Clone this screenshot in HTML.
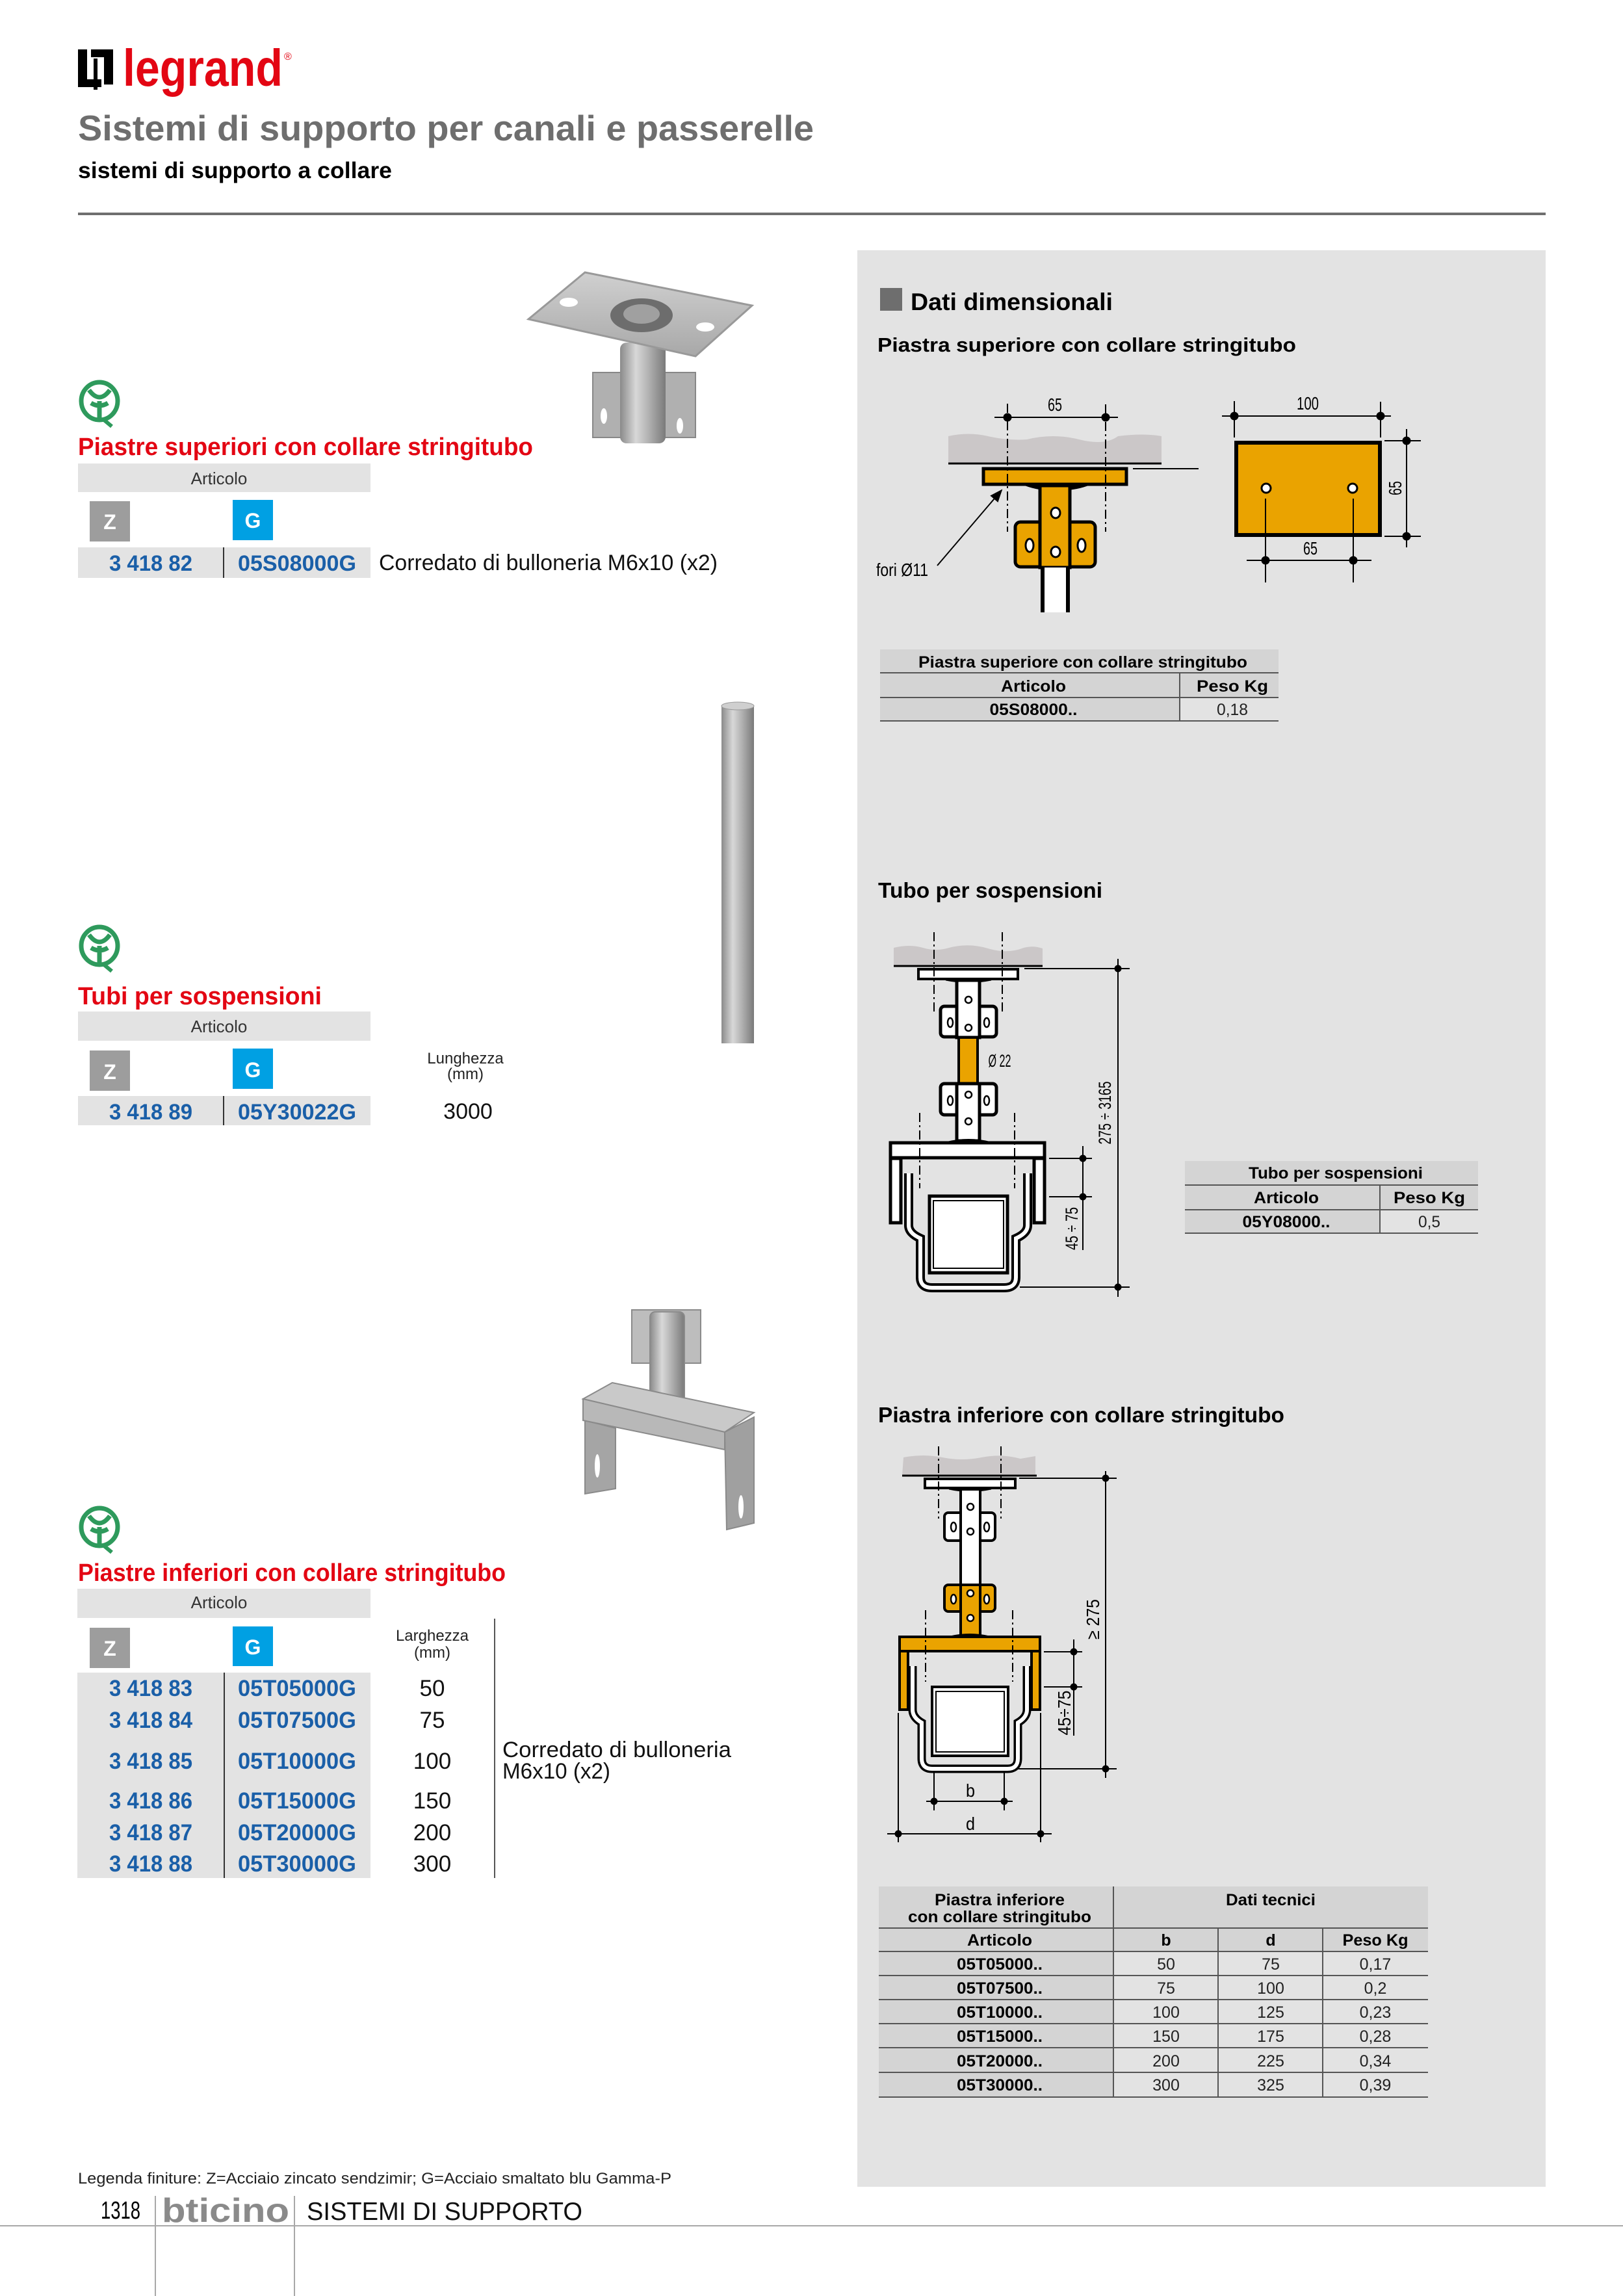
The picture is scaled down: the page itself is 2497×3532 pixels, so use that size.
<!DOCTYPE html>
<html><head><meta charset="utf-8"><style>
html,body{margin:0;padding:0;background:#fff}
svg{display:block}
text{font-family:"Liberation Sans",sans-serif}
</style></head><body>
<svg width="2497" height="3532" viewBox="0 0 2497 3532" xmlns="http://www.w3.org/2000/svg">
<defs>
<linearGradient id="met" x1="0" x2="1" y1="0" y2="0"><stop offset="0" stop-color="#8a8a8a"/><stop offset="0.35" stop-color="#d8d8d8"/><stop offset="0.6" stop-color="#b5b5b5"/><stop offset="1" stop-color="#7a7a7a"/></linearGradient>
<linearGradient id="met2" x1="0" x2="0" y1="0" y2="1"><stop offset="0" stop-color="#d0d0d0"/><stop offset="1" stop-color="#a8a8a8"/></linearGradient>
<marker id="arr" viewBox="0 0 10 10" refX="9" refY="5" markerWidth="10" markerHeight="10" orient="auto"><path d="M0,1 L10,5 L0,9 z" fill="#000"/></marker>
</defs>

<!-- header -->
<rect x="120" y="76" width="14" height="58" fill="#000"/>
<rect x="120" y="122" width="36" height="12" fill="#000"/>
<rect x="140" y="76" width="34" height="12" fill="#000"/>
<rect x="160" y="76" width="14" height="54" fill="#000"/>
<rect x="144" y="90" width="6" height="48" fill="#000"/>
<text x="189" y="132" font-size="80" font-weight="bold" fill="#e30613" textLength="246" lengthAdjust="spacingAndGlyphs">legrand</text>
<text x="437" y="92" font-size="16" fill="#e30613">®</text>
<text x="120" y="216" font-size="55" font-weight="bold" fill="#6e6e6e" textLength="1132" lengthAdjust="spacingAndGlyphs">Sistemi di supporto per canali e passerelle</text>
<text x="120" y="274" font-size="35" font-weight="bold" fill="#000" textLength="483" lengthAdjust="spacingAndGlyphs">sistemi di supporto a collare</text>
<rect x="120" y="327" width="2258" height="4" fill="#6f6f6f"/>

<!-- right panel -->
<rect x="1319" y="385" width="1059" height="2979" fill="#e3e3e3"/>
<rect x="1354" y="443" width="34" height="35" fill="#6e6e6e"/>
<text x="1401" y="477" font-size="37" font-weight="bold" fill="#000" textLength="311" lengthAdjust="spacingAndGlyphs">Dati dimensionali</text>
<text x="1350" y="541" font-size="31" font-weight="bold" fill="#000" textLength="644" lengthAdjust="spacingAndGlyphs">Piastra superiore con collare stringitubo</text>

<!-- diagram 1 -->
<g stroke="#000">
<path d="M1459,671 Q1490,664 1520,671 T1580,676 Q1620,666 1660,676 T1720,671 Q1760,666 1787,671 V713 H1459 Z" fill="#cbc7c8" stroke="none"/>
<line x1="1459" y1="713" x2="1787" y2="713" stroke-width="3"/>
<line x1="1743" y1="721" x2="1844" y2="721" stroke-width="2"/>
<rect x="1513" y="721" width="220" height="24" fill="#eaa300" stroke-width="5"/>
<path d="M1578,747 Q1600,755 1625,754 Q1650,755 1673,747 Z" fill="#000"/>
<rect x="1562" y="803" width="123" height="69" rx="8" fill="#eaa300" stroke-width="5"/>
<rect x="1600" y="747" width="46" height="126" fill="#eaa300" stroke-width="5"/>
<ellipse cx="1624" cy="789" rx="7" ry="8" fill="#fff" stroke-width="3"/>
<ellipse cx="1624" cy="849" rx="7" ry="8" fill="#fff" stroke-width="3"/>
<ellipse cx="1584" cy="839" rx="6" ry="10" fill="#fff" stroke-width="3"/>
<ellipse cx="1664" cy="839" rx="6" ry="10" fill="#fff" stroke-width="3"/>
<rect x="1604" y="873" width="39" height="69" fill="#fff" stroke="none"/>
<line x1="1604" y1="873" x2="1604" y2="942" stroke-width="6"/>
<line x1="1643" y1="873" x2="1643" y2="942" stroke-width="6"/>
<line x1="1550" y1="621" x2="1550" y2="818" stroke-width="2" stroke-dasharray="14 5 3 5"/>
<line x1="1701" y1="622" x2="1701" y2="818" stroke-width="2" stroke-dasharray="14 5 3 5"/>
<line x1="1530" y1="642" x2="1720" y2="642" stroke-width="2"/>
<circle cx="1550" cy="642" r="6" fill="#000"/><circle cx="1701" cy="642" r="6" fill="#000"/>
<line x1="1442" y1="870" x2="1541" y2="754" stroke-width="2" marker-end="url(#arr)"/>
<rect x="1902" y="681" width="221" height="142" fill="#eaa300" stroke-width="6"/>
<circle cx="1948" cy="751" r="7" fill="#fff" stroke-width="3"/>
<circle cx="2081" cy="751" r="7" fill="#fff" stroke-width="3"/>
<line x1="1947" y1="767" x2="1947" y2="896" stroke-width="2"/>
<line x1="2082" y1="767" x2="2082" y2="896" stroke-width="2"/>
<line x1="1880" y1="640" x2="2140" y2="640" stroke-width="2"/>
<line x1="1899" y1="617" x2="1899" y2="673" stroke-width="2"/>
<line x1="2124" y1="618" x2="2124" y2="673" stroke-width="2"/>
<circle cx="1899" cy="640" r="6" fill="#000"/><circle cx="2124" cy="640" r="6" fill="#000"/>
<line x1="2164" y1="660" x2="2164" y2="842" stroke-width="2"/>
<line x1="2130" y1="678" x2="2186" y2="678" stroke-width="2"/>
<line x1="2130" y1="825" x2="2186" y2="825" stroke-width="2"/>
<circle cx="2164" cy="678" r="6" fill="#000"/><circle cx="2164" cy="825" r="6" fill="#000"/>
<line x1="1918" y1="862" x2="2110" y2="862" stroke-width="2"/>
<circle cx="1947" cy="862" r="6" fill="#000"/><circle cx="2082" cy="862" r="6" fill="#000"/>
</g>
<g fill="#000" font-size="28" text-anchor="middle">
<text x="1623" y="632" textLength="22" lengthAdjust="spacingAndGlyphs">65</text>
<text x="2012" y="630" textLength="34" lengthAdjust="spacingAndGlyphs">100</text>
<text x="2016" y="853" textLength="22" lengthAdjust="spacingAndGlyphs">65</text>
<text transform="translate(2156,751) rotate(-90)" textLength="22" lengthAdjust="spacingAndGlyphs">65</text>
<text x="1348" y="886" text-anchor="start" textLength="80" lengthAdjust="spacingAndGlyphs">fori Ø11</text>
</g>

<!-- table 1 -->
<rect x="1354" y="999" width="613" height="110" fill="#d4d4d4"/>
<rect x="1815" y="1073" width="152" height="36" fill="#e3e3e3"/>
<g stroke="#555" stroke-width="2">
<line x1="1354" y1="1035" x2="1967" y2="1035"/><line x1="1354" y1="1073" x2="1967" y2="1073"/><line x1="1354" y1="1109" x2="1967" y2="1109"/>
<line x1="1815" y1="1035" x2="1815" y2="1109"/>
</g>
<g font-weight="bold" font-size="25" text-anchor="middle" fill="#000">
<text x="1666" y="1027" textLength="506" lengthAdjust="spacingAndGlyphs">Piastra superiore con collare stringitubo</text>
<text x="1590" y="1064" textLength="100" lengthAdjust="spacingAndGlyphs">Articolo</text>
<text x="1896" y="1064" textLength="110" lengthAdjust="spacingAndGlyphs">Peso  Kg</text>
<text x="1590" y="1100" textLength="135" lengthAdjust="spacingAndGlyphs">05S08000..</text>
</g>
<text x="1896" y="1100" font-size="25" text-anchor="middle" fill="#222" textLength="48" lengthAdjust="spacingAndGlyphs">0,18</text>

<!-- tubo diagram -->
<text x="1351" y="1381" font-size="33" font-weight="bold" fill="#000" textLength="345" lengthAdjust="spacingAndGlyphs">Tubo per sospensioni</text>
<g stroke="#000">
<path d="M1375,1458 Q1400,1452 1420,1458 T1460,1458 Q1490,1450 1520,1459 T1575,1458 Q1590,1454 1604,1459 V1486 H1375 Z" fill="#cbc7c8" stroke="none"/>
<line x1="1375" y1="1486" x2="1604" y2="1486" stroke-width="3"/>
<line x1="1576" y1="1490" x2="1738" y2="1490" stroke-width="2"/>
<rect x="1413" y="1491" width="153" height="15" fill="#fff" stroke-width="4"/>
<path d="M1455,1508 Q1490,1515 1525,1508 Z" fill="#000"/>
<rect x="1447" y="1548" width="86" height="47" rx="6" fill="#fff" stroke-width="5"/>
<rect x="1447" y="1667" width="86" height="48" rx="6" fill="#fff" stroke-width="5"/>
<rect x="1472" y="1508" width="35" height="88" fill="#fff" stroke-width="5"/>
<rect x="1475" y="1596" width="29" height="71" fill="#eaa300" stroke-width="4"/>
<rect x="1472" y="1667" width="35" height="88" fill="#fff" stroke-width="5"/>
<path d="M1455,1757 Q1490,1748 1525,1757 Z" fill="#000"/>
<g fill="#fff" stroke-width="2.5">
<ellipse cx="1490" cy="1538" rx="5" ry="5"/><ellipse cx="1490" cy="1581" rx="5" ry="5"/>
<ellipse cx="1462" cy="1573" rx="4" ry="7"/><ellipse cx="1518" cy="1573" rx="4" ry="7"/>
<ellipse cx="1490" cy="1684" rx="5" ry="5"/><ellipse cx="1490" cy="1725" rx="5" ry="5"/>
<ellipse cx="1462" cy="1693" rx="4" ry="7"/><ellipse cx="1518" cy="1693" rx="4" ry="7"/>
</g>
<rect x="1370" y="1758" width="237" height="23" fill="#fff" stroke-width="5"/>
<rect x="1370" y="1782" width="16" height="99" fill="#fff" stroke-width="5"/>
<rect x="1591" y="1782" width="16" height="99" fill="#fff" stroke-width="5"/>
<path d="M1398,1805 V1885 Q1398,1897 1416,1905 V1965 Q1416,1981 1434,1981 H1545 Q1563,1981 1563,1965 V1905 Q1581,1897 1581,1885 V1805" fill="none" stroke-width="14"/>
<path d="M1398,1805 V1885 Q1398,1897 1416,1905 V1965 Q1416,1981 1434,1981 H1545 Q1563,1981 1563,1965 V1905 Q1581,1897 1581,1885 V1805" fill="none" stroke="#fff" stroke-width="6"/>
<rect x="1430" y="1840" width="120" height="118" fill="#fff" stroke-width="5"/>
<rect x="1436" y="1847" width="108" height="104" fill="none" stroke-width="2"/>
<line x1="1437" y1="1434" x2="1437" y2="1558" stroke-width="2" stroke-dasharray="14 5 3 5"/>
<line x1="1542" y1="1434" x2="1542" y2="1558" stroke-width="2" stroke-dasharray="14 5 3 5"/>
<line x1="1415" y1="1712" x2="1415" y2="1828" stroke-width="2" stroke-dasharray="14 5 3 5"/>
<line x1="1561" y1="1712" x2="1561" y2="1828" stroke-width="2" stroke-dasharray="14 5 3 5"/>
<line x1="1720" y1="1475" x2="1720" y2="1995" stroke-width="2"/>
<line x1="1569" y1="1980" x2="1738" y2="1980" stroke-width="2"/>
<circle cx="1720" cy="1490" r="5" fill="#000"/><circle cx="1720" cy="1980" r="5" fill="#000"/>
<line x1="1614" y1="1782" x2="1680" y2="1782" stroke-width="2"/>
<line x1="1614" y1="1841" x2="1680" y2="1841" stroke-width="2"/>
<line x1="1666" y1="1763" x2="1666" y2="1923" stroke-width="2"/>
<circle cx="1666" cy="1782" r="5" fill="#000"/><circle cx="1666" cy="1841" r="5" fill="#000"/>
</g>
<g font-size="27" fill="#000" text-anchor="middle">
<text x="1538" y="1641" textLength="35" lengthAdjust="spacingAndGlyphs">Ø 22</text>
<text transform="translate(1709,1712) rotate(-90)" textLength="97" lengthAdjust="spacingAndGlyphs">275 ÷ 3165</text>
<text transform="translate(1658,1890) rotate(-90)" textLength="66" lengthAdjust="spacingAndGlyphs">45 ÷ 75</text>
</g>

<!-- table 2 -->
<rect x="1823" y="1786" width="451" height="111" fill="#d4d4d4"/>
<rect x="2123" y="1861" width="151" height="36" fill="#e3e3e3"/>
<g stroke="#555" stroke-width="2">
<line x1="1823" y1="1823" x2="2274" y2="1823"/><line x1="1823" y1="1861" x2="2274" y2="1861"/><line x1="1823" y1="1897" x2="2274" y2="1897"/>
<line x1="2123" y1="1823" x2="2123" y2="1897"/>
</g>
<g font-weight="bold" font-size="25" text-anchor="middle" fill="#000">
<text x="2055" y="1813" textLength="268" lengthAdjust="spacingAndGlyphs">Tubo per sospensioni</text>
<text x="1979" y="1851" textLength="100" lengthAdjust="spacingAndGlyphs">Articolo</text>
<text x="2199" y="1851" textLength="110" lengthAdjust="spacingAndGlyphs">Peso  Kg</text>
<text x="1979" y="1888" textLength="135" lengthAdjust="spacingAndGlyphs">05Y08000..</text>
</g>
<text x="2199" y="1888" font-size="25" text-anchor="middle" fill="#222" textLength="34" lengthAdjust="spacingAndGlyphs">0,5</text>

<!-- inferiore diagram -->
<text x="1351" y="2188" font-size="33" font-weight="bold" fill="#000" textLength="625" lengthAdjust="spacingAndGlyphs">Piastra inferiore con collare stringitubo</text>
<g stroke="#000">
<path d="M1390,2242 Q1420,2236 1450,2242 T1510,2242 Q1540,2236 1570,2244 L1593,2240 V2270 H1388 Z" fill="#cbc7c8" stroke="none"/>
<line x1="1388" y1="2270" x2="1595" y2="2270" stroke-width="3"/>
<line x1="1568" y1="2274" x2="1718" y2="2274" stroke-width="2"/>
<rect x="1423" y="2275" width="139" height="14" fill="#fff" stroke-width="4"/>
<path d="M1460,2291 Q1492,2298 1525,2291 Z" fill="#000"/>
<rect x="1453" y="2327" width="78" height="43" rx="6" fill="#fff" stroke-width="4"/>
<rect x="1453" y="2438" width="78" height="41" rx="6" fill="#eaa300" stroke-width="4"/>
<rect x="1478" y="2291" width="30" height="147" fill="#fff" stroke-width="4"/>
<rect x="1478" y="2438" width="30" height="78" fill="#eaa300" stroke-width="4"/>
<path d="M1462,2517 Q1492,2510 1522,2517 Z" fill="#000"/>
<g fill="#fff" stroke-width="2.5">
<ellipse cx="1493" cy="2318" rx="5" ry="5"/><ellipse cx="1493" cy="2356" rx="5" ry="5"/>
<ellipse cx="1467" cy="2349" rx="4" ry="7"/><ellipse cx="1518" cy="2349" rx="4" ry="7"/>
<ellipse cx="1493" cy="2451" rx="5" ry="5"/><ellipse cx="1493" cy="2489" rx="5" ry="5"/>
<ellipse cx="1467" cy="2460" rx="4" ry="7"/><ellipse cx="1518" cy="2460" rx="4" ry="7"/>
</g>
<rect x="1384" y="2518" width="216" height="22" fill="#eaa300" stroke-width="4"/>
<rect x="1384" y="2540" width="13" height="90" fill="#eaa300" stroke-width="4"/>
<rect x="1587" y="2540" width="13" height="90" fill="#eaa300" stroke-width="4"/>
<path d="M1404,2563 V2630 Q1404,2642 1418,2650 V2705 Q1418,2721 1434,2721 H1550 Q1566,2721 1566,2705 V2650 Q1580,2642 1580,2630 V2563" fill="none" stroke-width="13"/>
<path d="M1404,2563 V2630 Q1404,2642 1418,2650 V2705 Q1418,2721 1434,2721 H1550 Q1566,2721 1566,2705 V2650 Q1580,2642 1580,2630 V2563" fill="none" stroke="#fff" stroke-width="6"/>
<rect x="1434" y="2595" width="117" height="106" fill="#fff" stroke-width="4"/>
<rect x="1440" y="2602" width="105" height="93" fill="none" stroke-width="2"/>
<line x1="1444" y1="2225" x2="1444" y2="2336" stroke-width="2" stroke-dasharray="14 5 3 5"/>
<line x1="1540" y1="2225" x2="1540" y2="2336" stroke-width="2" stroke-dasharray="14 5 3 5"/>
<line x1="1424" y1="2477" x2="1424" y2="2587" stroke-width="2" stroke-dasharray="14 5 3 5"/>
<line x1="1558" y1="2477" x2="1558" y2="2587" stroke-width="2" stroke-dasharray="14 5 3 5"/>
<line x1="1701" y1="2263" x2="1701" y2="2735" stroke-width="2"/>
<line x1="1565" y1="2721" x2="1718" y2="2721" stroke-width="2"/>
<circle cx="1701" cy="2274" r="5" fill="#000"/><circle cx="1701" cy="2721" r="5" fill="#000"/>
<line x1="1606" y1="2541" x2="1665" y2="2541" stroke-width="2"/>
<line x1="1606" y1="2595" x2="1665" y2="2595" stroke-width="2"/>
<line x1="1652" y1="2522" x2="1652" y2="2670" stroke-width="2"/>
<circle cx="1652" cy="2541" r="5" fill="#000"/><circle cx="1652" cy="2595" r="5" fill="#000"/>
<line x1="1382" y1="2635" x2="1382" y2="2834" stroke-width="2"/>
<line x1="1601" y1="2635" x2="1601" y2="2834" stroke-width="2"/>
<line x1="1437" y1="2726" x2="1437" y2="2785" stroke-width="2"/>
<line x1="1545" y1="2726" x2="1545" y2="2785" stroke-width="2"/>
<line x1="1425" y1="2771" x2="1558" y2="2771" stroke-width="2"/>
<line x1="1365" y1="2821" x2="1618" y2="2821" stroke-width="2"/>
<circle cx="1437" cy="2771" r="5" fill="#000"/><circle cx="1545" cy="2771" r="5" fill="#000"/>
<circle cx="1382" cy="2821" r="5" fill="#000"/><circle cx="1601" cy="2821" r="5" fill="#000"/>
</g>
<g font-size="28" fill="#000" text-anchor="middle">
<text transform="translate(1691,2491) rotate(-90)" textLength="62" lengthAdjust="spacingAndGlyphs">≥ 275</text>
<text transform="translate(1647,2635) rotate(-90)" textLength="69" lengthAdjust="spacingAndGlyphs">45÷75</text>
<text x="1493" y="2764" textLength="14" lengthAdjust="spacingAndGlyphs">b</text>
<text x="1493" y="2815" textLength="14" lengthAdjust="spacingAndGlyphs">d</text>
</g>

<!-- table 3 -->
<rect x="1352" y="2902" width="845" height="324" fill="#d4d4d4"/>
<rect x="1713" y="3002" width="484" height="224" fill="#e3e3e3"/>
<g stroke="#555" stroke-width="2">
<line x1="1352" y1="2966" x2="2197" y2="2966"/>
<line x1="1352" y1="3002" x2="2197" y2="3002"/>
<line x1="1352" y1="3039" x2="2197" y2="3039"/>
<line x1="1352" y1="3076" x2="2197" y2="3076"/>
<line x1="1352" y1="3113" x2="2197" y2="3113"/>
<line x1="1352" y1="3150" x2="2197" y2="3150"/>
<line x1="1352" y1="3188" x2="2197" y2="3188"/>
<line x1="1352" y1="3226" x2="2197" y2="3226"/>
<line x1="1713" y1="2902" x2="1713" y2="3226"/>
<line x1="1874" y1="2966" x2="1874" y2="3226"/>
<line x1="2035" y1="2966" x2="2035" y2="3226"/>
</g>
<g font-weight="bold" font-size="25" text-anchor="middle" fill="#000">
<text x="1538" y="2931" textLength="200" lengthAdjust="spacingAndGlyphs">Piastra inferiore</text>
<text x="1538" y="2957" textLength="282" lengthAdjust="spacingAndGlyphs">con collare stringitubo</text>
<text x="1955" y="2931" textLength="138" lengthAdjust="spacingAndGlyphs">Dati tecnici</text>
<text x="1538" y="2993" textLength="100" lengthAdjust="spacingAndGlyphs">Articolo</text>
<text x="1794" y="2993">b</text>
<text x="1955" y="2993">d</text>
<text x="2116" y="2993" textLength="101" lengthAdjust="spacingAndGlyphs">Peso Kg</text>
<text x="1538" y="3030" textLength="132" lengthAdjust="spacingAndGlyphs">05T05000..</text>
<text x="1538" y="3067" textLength="132" lengthAdjust="spacingAndGlyphs">05T07500..</text>
<text x="1538" y="3104" textLength="132" lengthAdjust="spacingAndGlyphs">05T10000..</text>
<text x="1538" y="3141" textLength="132" lengthAdjust="spacingAndGlyphs">05T15000..</text>
<text x="1538" y="3179" textLength="132" lengthAdjust="spacingAndGlyphs">05T20000..</text>
<text x="1538" y="3216" textLength="132" lengthAdjust="spacingAndGlyphs">05T30000..</text>
</g>
<g font-size="25" text-anchor="middle" fill="#222">
<text x="1794" y="3030">50</text><text x="1955" y="3030">75</text><text x="2116" y="3030">0,17</text>
<text x="1794" y="3067">75</text><text x="1955" y="3067">100</text><text x="2116" y="3067">0,2</text>
<text x="1794" y="3104">100</text><text x="1955" y="3104">125</text><text x="2116" y="3104">0,23</text>
<text x="1794" y="3141">150</text><text x="1955" y="3141">175</text><text x="2116" y="3141">0,28</text>
<text x="1794" y="3179">200</text><text x="1955" y="3179">225</text><text x="2116" y="3179">0,34</text>
<text x="1794" y="3216">300</text><text x="1955" y="3216">325</text><text x="2116" y="3216">0,39</text>
</g>

<!-- green icons -->
<g id="ic1" fill="none" stroke="#2e9a5c" stroke-width="7">
<ellipse cx="153" cy="617" rx="28" ry="29"/>
<path d="M137,600 Q153,622 169,600 M153,617 V645 M140,620 Q153,628 166,620"/>
<path d="M160,646 L172,656" stroke-width="6"/>
</g>
<use href="#ic1" transform="translate(0,838)"/>
<use href="#ic1" transform="translate(0,1732)"/>

<!-- section 1 -->
<text x="120" y="700" font-size="38" font-weight="bold" fill="#e30613" textLength="700" lengthAdjust="spacingAndGlyphs">Piastre superiori con collare stringitubo</text>
<rect x="120" y="713" width="450" height="44" fill="#e3e3e3"/>
<text x="337" y="745" font-size="26" text-anchor="middle" fill="#333">Articolo</text>
<rect x="138" y="771" width="62" height="62" fill="#9d9d9d"/>
<text x="169" y="814" font-size="32" font-weight="bold" text-anchor="middle" fill="#fff">Z</text>
<rect x="358" y="769" width="62" height="62" fill="#00a0e3"/>
<text x="389" y="812" font-size="32" font-weight="bold" text-anchor="middle" fill="#fff">G</text>
<rect x="120" y="842" width="450" height="47" fill="#e3e3e3"/>
<line x1="344" y1="842" x2="344" y2="889" stroke="#333" stroke-width="2"/>
<text x="232" y="878" font-size="34" font-weight="bold" text-anchor="middle" fill="#1a5fa8" textLength="128" lengthAdjust="spacingAndGlyphs">3 418 82</text>
<text x="457" y="878" font-size="34" font-weight="bold" text-anchor="middle" fill="#1a5fa8" textLength="182" lengthAdjust="spacingAndGlyphs">05S08000G</text>
<text x="583" y="877" font-size="34" fill="#111" textLength="521" lengthAdjust="spacingAndGlyphs">Corredato di bulloneria M6x10 (x2)</text>

<!-- photo 1 -->
<g>
<rect x="912" y="573" width="158" height="100" fill="#b0b0b0" stroke="#888" stroke-width="2"/>
<rect x="954" y="527" width="70" height="155" rx="10" fill="url(#met)"/>
<polygon points="813,491 900,419 1157,470 1070,548" fill="url(#met2)" stroke="#999" stroke-width="3"/>
<ellipse cx="875" cy="465" rx="14" ry="7" fill="#fff"/>
<ellipse cx="1085" cy="503" rx="14" ry="7" fill="#fff"/>
<ellipse cx="987" cy="485" rx="48" ry="26" fill="#6d6d6d"/>
<ellipse cx="987" cy="483" rx="28" ry="15" fill="#a0a0a0"/>
<ellipse cx="929" cy="640" rx="5" ry="12" fill="#fff"/>
<ellipse cx="1046" cy="655" rx="5" ry="12" fill="#fff"/>
</g>

<!-- section 2 -->
<text x="120" y="1545" font-size="38" font-weight="bold" fill="#e30613" textLength="375" lengthAdjust="spacingAndGlyphs">Tubi per sospensioni</text>
<rect x="120" y="1556" width="450" height="45" fill="#e3e3e3"/>
<text x="337" y="1588" font-size="26" text-anchor="middle" fill="#333">Articolo</text>
<rect x="138" y="1616" width="62" height="62" fill="#9d9d9d"/>
<text x="169" y="1660" font-size="32" font-weight="bold" text-anchor="middle" fill="#fff">Z</text>
<rect x="358" y="1613" width="62" height="62" fill="#00a0e3"/>
<text x="389" y="1657" font-size="32" font-weight="bold" text-anchor="middle" fill="#fff">G</text>
<text x="716" y="1636" font-size="24" text-anchor="middle" fill="#222">Lunghezza</text>
<text x="716" y="1660" font-size="24" text-anchor="middle" fill="#222">(mm)</text>
<rect x="120" y="1686" width="450" height="45" fill="#e3e3e3"/>
<line x1="344" y1="1686" x2="344" y2="1731" stroke="#333" stroke-width="2"/>
<text x="232" y="1722" font-size="34" font-weight="bold" text-anchor="middle" fill="#1a5fa8" textLength="128" lengthAdjust="spacingAndGlyphs">3 418 89</text>
<text x="457" y="1722" font-size="34" font-weight="bold" text-anchor="middle" fill="#1a5fa8" textLength="182" lengthAdjust="spacingAndGlyphs">05Y30022G</text>
<text x="720" y="1721" font-size="34" text-anchor="middle" fill="#111">3000</text>
<rect x="1110" y="1085" width="50" height="520" fill="url(#met)"/>
<ellipse cx="1135" cy="1086" rx="25" ry="6" fill="#cfcfcf" stroke="#999"/>

<!-- photo 3 -->
<g stroke="#8a8a8a" stroke-width="2">
<rect x="972" y="2015" width="106" height="82" fill="#bdbdbd"/>
<rect x="1000" y="2018" width="53" height="140" rx="8" fill="url(#met)"/>
<polygon points="900,2185 947,2197 947,2290 900,2298" fill="#a5a5a5"/>
<polygon points="1115,2203 1160,2180 1160,2343 1118,2353" fill="#a0a0a0"/>
<polygon points="897,2152 942,2127 1160,2173 1115,2203" fill="#c9c9c9"/>
<polygon points="897,2152 1115,2203 1115,2230 897,2185" fill="#b8b8b8"/>
</g>
<ellipse cx="919" cy="2255" rx="4" ry="18" fill="#fff"/>
<ellipse cx="1140" cy="2318" rx="4" ry="18" fill="#fff"/>

<!-- section 3 -->
<text x="120" y="2432" font-size="38" font-weight="bold" fill="#e30613" textLength="658" lengthAdjust="spacingAndGlyphs">Piastre inferiori con collare stringitubo</text>
<rect x="119" y="2444" width="451" height="45" fill="#e3e3e3"/>
<text x="337" y="2474" font-size="26" text-anchor="middle" fill="#333">Articolo</text>
<rect x="138" y="2504" width="62" height="62" fill="#9d9d9d"/>
<text x="169" y="2547" font-size="32" font-weight="bold" text-anchor="middle" fill="#fff">Z</text>
<rect x="358" y="2502" width="62" height="61" fill="#00a0e3"/>
<text x="389" y="2545" font-size="32" font-weight="bold" text-anchor="middle" fill="#fff">G</text>
<text x="665" y="2524" font-size="24" text-anchor="middle" fill="#222">Larghezza</text>
<text x="665" y="2550" font-size="24" text-anchor="middle" fill="#222">(mm)</text>
<rect x="119" y="2573" width="451" height="316" fill="#e3e3e3"/>
<line x1="345" y1="2573" x2="345" y2="2889" stroke="#333" stroke-width="2"/>
<line x1="761" y1="2490" x2="761" y2="2889" stroke="#555" stroke-width="2"/>
<g font-size="35" font-weight="bold" text-anchor="middle" fill="#1a5fa8">
<text x="232" y="2609" textLength="128" lengthAdjust="spacingAndGlyphs">3 418 83</text><text x="457" y="2609" textLength="182" lengthAdjust="spacingAndGlyphs">05T05000G</text>
<text x="232" y="2658" textLength="128" lengthAdjust="spacingAndGlyphs">3 418 84</text><text x="457" y="2658" textLength="182" lengthAdjust="spacingAndGlyphs">05T07500G</text>
<text x="232" y="2721" textLength="128" lengthAdjust="spacingAndGlyphs">3 418 85</text><text x="457" y="2721" textLength="182" lengthAdjust="spacingAndGlyphs">05T10000G</text>
<text x="232" y="2782" textLength="128" lengthAdjust="spacingAndGlyphs">3 418 86</text><text x="457" y="2782" textLength="182" lengthAdjust="spacingAndGlyphs">05T15000G</text>
<text x="232" y="2831" textLength="128" lengthAdjust="spacingAndGlyphs">3 418 87</text><text x="457" y="2831" textLength="182" lengthAdjust="spacingAndGlyphs">05T20000G</text>
<text x="232" y="2879" textLength="128" lengthAdjust="spacingAndGlyphs">3 418 88</text><text x="457" y="2879" textLength="182" lengthAdjust="spacingAndGlyphs">05T30000G</text>
</g>
<g font-size="35" text-anchor="middle" fill="#111">
<text x="665" y="2609">50</text><text x="665" y="2658">75</text><text x="665" y="2721">100</text>
<text x="665" y="2782">150</text><text x="665" y="2831">200</text><text x="665" y="2879">300</text>
</g>
<text x="773" y="2703" font-size="34" fill="#111" textLength="352" lengthAdjust="spacingAndGlyphs">Corredato di bulloneria</text>
<text x="773" y="2736" font-size="34" fill="#111" textLength="166" lengthAdjust="spacingAndGlyphs">M6x10 (x2)</text>

<!-- footer -->
<text x="120" y="3359" font-size="24" fill="#222" textLength="913" lengthAdjust="spacingAndGlyphs">Legenda finiture: Z=Acciaio zincato sendzimir; G=Acciaio smaltato blu Gamma-P</text>
<text x="155" y="3413" font-size="38" fill="#000" textLength="61" lengthAdjust="spacingAndGlyphs">1318</text>
<text x="249" y="3418" font-size="52" font-weight="bold" fill="#8a8a8a" textLength="196" lengthAdjust="spacingAndGlyphs">bticino</text>
<text x="472" y="3415" font-size="39" fill="#111" textLength="424" lengthAdjust="spacingAndGlyphs">SISTEMI DI SUPPORTO</text>
<line x1="0" y1="3424" x2="2497" y2="3424" stroke="#a8a8a8" stroke-width="2"/>
<line x1="239" y1="3378" x2="239" y2="3532" stroke="#a8a8a8" stroke-width="2"/>
<line x1="453" y1="3378" x2="453" y2="3532" stroke="#a8a8a8" stroke-width="2"/>
</svg>
</body></html>
